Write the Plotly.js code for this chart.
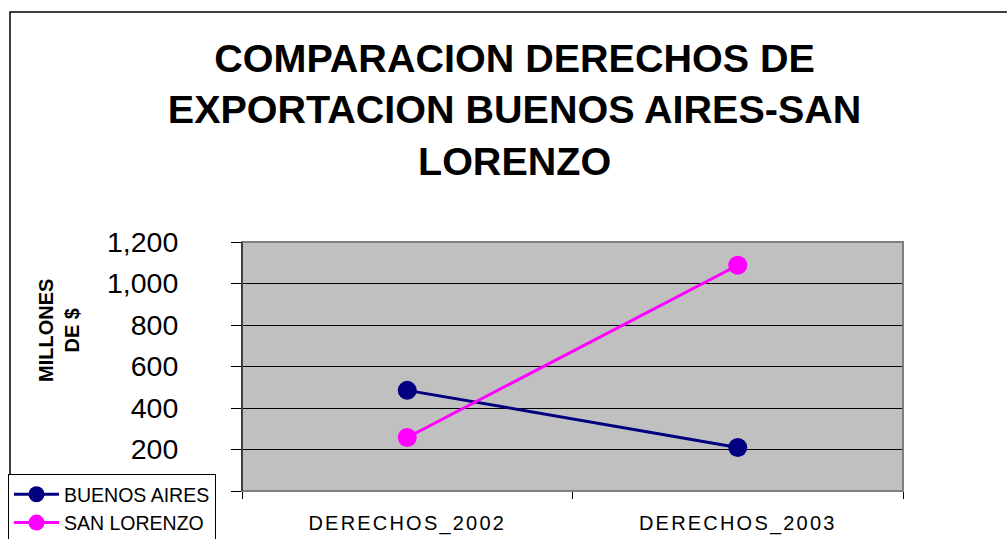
<!DOCTYPE html>
<html>
<head>
<meta charset="utf-8">
<script src="https://cdn.plot.ly/plotly-3.0.1.min.js"></script>
<style>
html,body{margin:0;padding:0;background:#fff;}
#chart{width:1007px;height:539px;}
.xtick text{letter-spacing:2.2px;}
</style>
</head>
<body>
<div id="chart"></div>
<script>
var categories = ["DERECHOS_2002", "DERECHOS_2003"];
var buenosAires = [485, 210];
var sanLorenzo = [258, 1088];
var seriesNames = ["BUENOS AIRES", "SAN LORENZO"];
var yTicks = [0, 200, 400, 600, 800, 1000, 1200];
var yTickText = ["", "200", "400", "600", "800", "1,000", "1,200"];

var traces = [
  {x: categories, y: buenosAires, name: seriesNames[0], type: 'scatter', mode: 'lines+markers',
   line: {color: '#000080', width: 3}, marker: {color: '#000080', size: 19}},
  {x: categories, y: sanLorenzo, name: seriesNames[1], type: 'scatter', mode: 'lines+markers',
   line: {color: '#FF00FF', width: 3}, marker: {color: '#FF00FF', size: 19}}
];

var layout = {
  width: 1007, height: 539,
  margin: {l: 242, r: 104, t: 242, b: 48, autoexpand: false},
  paper_bgcolor: '#ffffff',
  plot_bgcolor: '#C0C0C0',
  font: {family: 'Liberation Sans, Arial, sans-serif', color: '#000'},
  title: {
    text: 'COMPARACION DERECHOS DE<br>EXPORTACION BUENOS AIRES-SAN<br>LORENZO',
    font: {size: 39.5, family: 'Liberation Sans, Arial, sans-serif', weight: 'bold', color: '#000'},
    xref: 'container', x: 0.511, xanchor: 'center',
    yref: 'container', y: 1 - 72/539, yanchor: 'top'
  },
  showlegend: true,
  legend: {
    x: -0.354, xanchor: 'left', y: 0.068, yanchor: 'top',
    bgcolor: '#ffffff', bordercolor: '#000', borderwidth: 1,
    font: {size: 19.5, family: 'Liberation Sans, Arial, sans-serif', color: '#000'},
    itemwidth: 45, tracegroupgap: 0
  },
  xaxis: {
    type: 'category', range: [-0.5, 1.5],
    tickson: 'boundaries', ticks: 'outside', ticklen: 7, tickcolor: '#000', tickwidth: 1,
    showline: true, linecolor: '#000', linewidth: 1,
    showgrid: false, zeroline: false,
    tickfont: {size: 20, family: 'Liberation Sans, Arial, sans-serif', color: '#000'},
    ticklabelstandoff: 14
  },
  yaxis: {
    range: [0, 1200], tickvals: yTicks, ticktext: yTickText,
    ticks: 'outside', ticklen: 10, tickcolor: '#000', tickwidth: 1,
    showline: true, linecolor: '#000', linewidth: 1,
    showgrid: true, gridcolor: '#000', gridwidth: 1, zeroline: false,
    tickfont: {size: 28.5, family: 'Liberation Sans, Arial, sans-serif', color: '#000'},
    ticklabelstandoff: 47
  },
  annotations: [{
    text: '<b>MILLONES<br>DE $</b>', textangle: -90,
    xref: 'paper', yref: 'paper', x: (59 - 242) / 661, y: (491 - 331) / 249,
    xanchor: 'center', yanchor: 'middle', showarrow: false,
    font: {size: 20, family: 'Liberation Sans, Arial, sans-serif', color: '#000'}
  }],
  shapes: [
    {type: 'rect', xref: 'paper', yref: 'paper', x0: 0, x1: 1, y0: 0, y1: 1,
     line: {color: '#808080', width: 2}, layer: 'above'},
    {type: 'line', xref: 'paper', yref: 'paper', x0: 0, x1: 0, y0: 0, y1: 1,
     line: {color: '#000', width: 1}, layer: 'above'},
    {type: 'rect', xref: 'paper', yref: 'paper', x0: (10 - 242) / 661, x1: (1015 - 242) / 661,
     y0: (491 - 545) / 249, y1: (491 - 12) / 249,
     line: {color: '#000', width: 1.5}, layer: 'below'}
  ]
};

Plotly.newPlot('chart', traces, layout, {displayModeBar: false, staticPlot: true});
</script>
</body>
</html>
